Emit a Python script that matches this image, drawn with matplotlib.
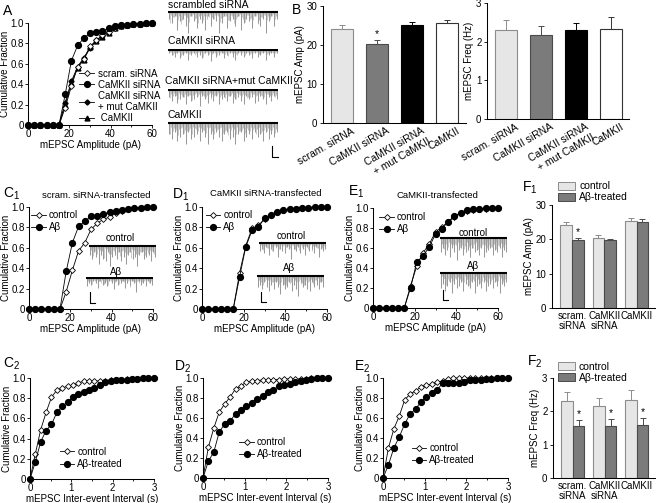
import numpy as np
import matplotlib
matplotlib.use("Agg")
import matplotlib.pyplot as plt
import matplotlib.transforms as mtransforms
from matplotlib.lines import Line2D
from matplotlib.patches import Patch

W, H = 656, 503
plt.rcParams['font.family'] = ['Liberation Sans', 'DejaVu Sans']
plt.rcParams['mathtext.default'] = 'regular'
plt.rcParams['font.size'] = 7
plt.rcParams['axes.linewidth'] = 0.75

# ---------------- data ----------------
amp_bins = [0, 3, 6, 9, 12, 15, 18, 21, 24, 27, 30, 33, 36, 39, 42, 45, 48, 51, 54, 57, 60]
scram_A = [0, 0, 0, 0, 0, 0, 0.17, 0.38, 0.57, 0.65, 0.77, 0.83, 0.88, 0.91, 0.95, 0.97, 0.98, 0.99, 0.99, 1.0, 1.0]
sirna_A = [0, 0, 0, 0, 0, 0, 0.30, 0.63, 0.78, 0.85, 0.90, 0.91, 0.92, 0.95, 0.97, 0.98, 0.98, 0.99, 0.995, 1.0, 1.0]
mut_A = [0, 0, 0, 0, 0, 0, 0.22, 0.43, 0.57, 0.66, 0.75, 0.83, 0.87, 0.92, 0.96, 0.97, 0.98, 0.99, 0.99, 1.0, 1.0]
camk_A = [0, 0, 0, 0, 0, 0, 0.20, 0.41, 0.56, 0.64, 0.76, 0.82, 0.86, 0.90, 0.95, 0.97, 0.98, 0.99, 0.99, 1.0, 1.0]

ctrl_C1 = [0, 0, 0, 0, 0, 0, 0.17, 0.38, 0.57, 0.65, 0.78, 0.84, 0.88, 0.90, 0.94, 0.96, 0.98, 0.99, 0.99, 1.0, 1.0]
abeta_C1 = [0, 0, 0, 0, 0, 0, 0.37, 0.65, 0.81, 0.86, 0.91, 0.91, 0.93, 0.95, 0.96, 0.97, 0.98, 0.99, 0.99, 1.0, 1.0]
ctrl_D1 = [0, 0, 0, 0, 0, 0, 0.35, 0.62, 0.79, 0.82, 0.88, 0.92, 0.95, 0.97, 0.98, 0.985, 0.99, 0.99, 1.0, 1.0, 1.0]
abeta_D1 = [0, 0, 0, 0, 0, 0, 0.31, 0.61, 0.77, 0.80, 0.89, 0.92, 0.95, 0.97, 0.98, 0.985, 0.99, 0.995, 1.0, 1.0, 1.0]
ctrl_E1 = [0, 0, 0, 0, 0, 0, 0.22, 0.42, 0.55, 0.64, 0.76, 0.81, 0.86, 0.91, 0.95, 0.97, 0.98, 0.99, 0.99, 1.0, 1.0]
abeta_E1 = [0, 0, 0, 0, 0, 0, 0.20, 0.46, 0.52, 0.61, 0.74, 0.79, 0.86, 0.92, 0.95, 0.98, 0.99, 0.99, 1.0, 1.0, 1.0]

iei_bins = [0, 0.13, 0.26, 0.39, 0.52, 0.65, 0.78, 0.91, 1.04, 1.17, 1.30, 1.43, 1.56, 1.69,
            1.82, 1.95, 2.08, 2.21, 2.34, 2.47, 2.60, 2.73, 2.86, 2.99]
ctrl_C2 = [0, 0.25, 0.49, 0.66, 0.81, 0.88, 0.90, 0.92, 0.93, 0.95, 0.97, 0.97, 0.97, 0.97,
           0.97, 0.98, 0.98, 0.98, 0.99, 0.99, 0.99, 1.0, 1.0, 1.0]
abeta_C2 = [0, 0.17, 0.37, 0.48, 0.54, 0.66, 0.72, 0.76, 0.81, 0.84, 0.86, 0.88, 0.90, 0.93,
            0.96, 0.97, 0.98, 0.98, 0.985, 0.99, 0.99, 1.0, 1.0, 1.0]
ctrl_D2 = [0, 0.31, 0.50, 0.66, 0.74, 0.81, 0.89, 0.92, 0.96, 0.97, 0.975, 0.98, 0.98, 0.985,
           0.985, 0.99, 0.99, 0.99, 0.99, 0.995, 1.0, 1.0, 1.0, 1.0]
abeta_D2 = [0, 0.17, 0.26, 0.46, 0.54, 0.57, 0.64, 0.68, 0.72, 0.75, 0.79, 0.82, 0.86, 0.88,
            0.92, 0.93, 0.94, 0.96, 0.97, 0.98, 0.99, 1.0, 1.0, 1.0]
ctrl_E2 = [0, 0.30, 0.49, 0.62, 0.78, 0.84, 0.87, 0.91, 0.93, 0.94, 0.96, 0.97, 0.99, 1.0,
           1.0, 1.0, 1.0, 1.0, 1.0, 1.0, 1.0, 1.0, 1.0, 1.0]
abeta_E2 = [0, 0.13, 0.30, 0.41, 0.54, 0.64, 0.69, 0.76, 0.81, 0.85, 0.88, 0.95, 0.955, 0.955,
            0.955, 0.96, 0.98, 0.98, 0.985, 0.99, 0.99, 1.0, 1.0, 1.0]

groups_B = ["scram. siRNA", "CaMKII siRNA", "CaMKII siRNA\n+ mut CaMKII", "CaMKII"]
amp_mean = [24.2, 20.3, 25.2, 25.7]
amp_sem = [1.0, 1.0, 0.7, 0.7]
freq_mean = [2.31, 2.16, 2.29, 2.34]
freq_sem = [0.26, 0.25, 0.20, 0.30]

groups_F = ["scram.\nsiRNA", "CaMKII\nsiRNA", "CaMKII"]
ctrl_amp = [24.2, 20.3, 25.4]
ctrl_amp_sem = [0.9, 0.9, 0.7]
abeta_amp = [19.8, 19.7, 25.0]
abeta_amp_sem = [0.5, 0.3, 1.0]
ctrl_freq = [2.30, 2.15, 2.33]
ctrl_freq_sem = [0.27, 0.25, 0.30]
abeta_freq = [1.57, 1.57, 1.60]
abeta_freq_sem = [0.18, 0.20, 0.20]

# example trace event depths (relative)
tr_scram = [3, 5, 2, 8, 4, 3, 6, 9, 2, 4, 7, 3, 5, 8, 2, 6, 3, 4, 9, 5, 2, 7, 4, 3, 6, 2, 8, 5, 3, 4, 7, 2, 5, 6, 3, 9, 4, 2, 6, 3]
tr_sirna = [2, 3, 4, 2, 5, 3, 2, 6, 3, 2, 4, 3, 5, 2, 3, 7, 2, 4, 3, 2, 5, 3, 2, 4, 6, 2, 3, 4, 2, 3, 5, 2, 4, 3, 2, 6, 3, 2, 4, 2]
tr_mut = [4, 6, 3, 7, 5, 4, 8, 3, 6, 5, 4, 9, 3, 5, 7, 4, 6, 3, 8, 5, 4, 6, 3, 7, 5, 4, 6, 8, 3, 5, 4, 7, 6, 3, 5, 8, 4, 6, 3, 5]
tr_camk = [5, 7, 4, 8, 6, 5, 9, 4, 7, 6, 5, 8, 4, 6, 9, 5, 7, 4, 6, 8, 5, 4, 7, 6, 9, 5, 4, 8, 6, 5, 7, 4, 6, 5, 8, 4, 7, 5, 6, 4]
tr_C1_ctrl = [4, 6, 3, 5, 8, 4, 6, 7, 3, 9, 5, 4, 6, 3, 7, 5, 8, 4, 3, 6, 5, 9, 4, 3, 6, 5, 4, 7, 3, 5]
tr_C1_abeta = [5, 3, 4, 2, 3, 6, 2, 4, 3, 5, 2, 3, 7, 2, 4, 3, 2, 6, 3, 4, 2, 3, 9, 2, 4, 3, 5, 2, 3, 4]
tr_D1_ctrl = [4, 3, 5, 2, 6, 3, 4, 2, 7, 3, 4, 5, 2, 3, 8, 3, 4, 2, 5, 3, 6, 2, 4, 3, 5, 2, 7, 3, 4, 3]
tr_D1_abeta = [5, 4, 6, 3, 5, 7, 4, 6, 3, 5, 8, 4, 6, 5, 3, 7, 4, 6, 9, 3, 5, 4, 6, 7, 3, 5, 4, 6, 3, 5]
tr_E1_ctrl = [6, 4, 7, 5, 8, 4, 6, 9, 5, 4, 7, 6, 5, 8, 4, 6, 5, 7, 4, 8, 6, 5, 4, 7, 5, 6, 4, 8, 5, 6]
tr_E1_abeta = [7, 5, 8, 6, 4, 9, 5, 7, 6, 4, 8, 5, 6, 7, 4, 9, 6, 5, 7, 4, 8, 6, 5, 7, 4, 6, 9, 5, 6, 4]

LIGHT, LIGHT_E = '#e6e6e6', '#8c8c8c'
DARK, DARK_E = '#7b7b7b', '#4a4a4a'

fig = plt.figure(figsize=(6.56, 5.03), dpi=100)


def add_box(l, t, r, b):
    return fig.add_axes([l / W, 1 - b / H, (r - l) / W, (b - t) / H])


def ftext(x, y, s, **kw):
    return fig.text(x / W, 1 - y / H, s, **kw)


def fline(xs, ys):
    fig.add_artist(Line2D([x / W for x in xs], [1 - y / H for y in ys], color='k', lw=0.8))


def style_cdf(ax, kind):
    ax.set_ylim(0, 1.0)
    for s in ['top', 'right']:
        ax.spines[s].set_visible(False)
    if kind == 'amp':
        ax.set_xlim(0, 60)
        ax.set_xticks([0, 20, 40, 60])
        ax.set_xticks([10, 30, 50], minor=True)
        ax.set_xlabel('mEPSC Amplitude (pA)', labelpad=0.5)
    else:
        ax.set_xlim(0, 3)
        ax.set_xticks([0, 1, 2, 3])
        ax.set_xticks([0.5, 1.5, 2.5], minor=True)
        ax.set_xlabel('mEPSC Inter-event Interval (s)', labelpad=0.5)
    ax.set_yticks([0, 0.2, 0.4, 0.6, 0.8, 1.0])
    ax.set_yticklabels(['0', '0.2', '0.4', '0.6', '0.8', '1.0'])
    ax.set_ylabel('Cumulative Fraction', labelpad=0.5)
    ax.tick_params(which='both', length=2, width=0.6, pad=1, labelsize=7)
    ax.tick_params(which='minor', length=1.3)


def plot_pair(ax, x, ctrl, ab):
    ax.plot(x, ctrl, '-', color='k', lw=0.6, marker='D', ms=3, mfc='white', mec='k',
            mew=0.6, clip_on=False, zorder=3)
    ax.plot(x, ab, '-', color='k', lw=0.6, marker='o', ms=4.2, mfc='k', mec='k',
            clip_on=False, zorder=4)


def pair_legend(ax, anchor, ab_label):
    h = [Line2D([], [], color='k', lw=0.6, marker='D', ms=3, mfc='white', mec='k', mew=0.6),
         Line2D([], [], color='k', lw=0.6, marker='o', ms=4.2, mfc='k')]
    ax.legend(h, ['control', ab_label], loc='upper left', bbox_to_anchor=anchor, frameon=False,
              handlelength=1.5, handletextpad=0.3, labelspacing=0.25, borderaxespad=0,
              borderpad=0, fontsize=7)


def draw_trace(box, events, label=None, label_xy=None):
    ax = add_box(*box)
    ax.axis('off')
    n = len(events)
    pos = np.linspace(0.01, 0.99, n)
    ax.vlines(pos + 0.33 / n, 0, [-e * 0.6 for e in events[3:] + events[:3]], color='#c4c4c4', lw=0.6)
    ax.vlines(pos + 0.66 / n, 0, [-e * 0.4 for e in events[::-1]], color='#b4b4b4', lw=0.6)
    ax.vlines(pos, 0, [-e for e in events], color='#999999', lw=0.75)
    ax.plot([0, 1], [0, 0], color='k', lw=1.5)
    ax.set_xlim(0, 1)
    ax.set_ylim(-10, 0.8)
    if label:
        ftext(label_xy[0], label_xy[1], label, ha='center', va='center', fontsize=7)


def style_bar(ax, yticks, ylabel):
    for s in ['top', 'right']:
        ax.spines[s].set_visible(False)
    ax.set_yticks(yticks)
    ax.set_ylim(yticks[0], yticks[-1])
    ax.set_ylabel(ylabel, labelpad=1.5)
    ax.tick_params(axis='y', length=2.5, width=0.6, pad=1.5, labelsize=7)
    ax.tick_params(axis='x', length=0, pad=2, labelsize=7)


def up_err(ax, x, m, e, color):
    ax.errorbar(x, m, yerr=[[0] * len(e), e], fmt='none', ecolor=color, elinewidth=0.7,
                capsize=2.5, capthick=0.7, zorder=1)


# ---------------- panel A ----------------
axA = add_box(28, 23, 152, 125)
style_cdf(axA, 'amp')
axA.plot(amp_bins, camk_A, '-', color='k', lw=0.6, marker='^', ms=3.5, mfc='k', clip_on=False, zorder=3)
axA.plot(amp_bins, mut_A, '-', color='k', lw=0.6, marker='D', ms=2.6, mfc='k', clip_on=False, zorder=3)
axA.plot(amp_bins, scram_A, '-', color='k', lw=0.6, marker='D', ms=3, mfc='white', mec='k', mew=0.6,
         clip_on=False, zorder=4)
axA.plot(amp_bins, sirna_A, '-', color='k', lw=0.6, marker='o', ms=4.2, mfc='k', clip_on=False, zorder=5)
hA = [Line2D([], [], color='k', lw=0.6, marker='D', ms=3, mfc='white', mec='k', mew=0.6),
      Line2D([], [], color='k', lw=0.6, marker='o', ms=4.2, mfc='k'),
      Line2D([], [], color='k', lw=0.6, marker='D', ms=2.6, mfc='k'),
      Line2D([], [], color='k', lw=0.6, marker='^', ms=3.5, mfc='k')]
axA.legend(hA, ['scram. siRNA', 'CaMKII siRNA', 'CaMKII siRNA\n+ mut CaMKII', ' CaMKII'],
           loc='upper left', bbox_to_anchor=(0.41, 0.55), frameon=False, handlelength=1.6,
           handletextpad=0.4, labelspacing=0.1, borderaxespad=0, borderpad=0, fontsize=7)
ftext(3, 4, 'A', fontsize=10, va='top')

# traces A
draw_trace((168, 10, 278, 35), tr_scram)
draw_trace((168, 49, 278, 66), tr_sirna)
draw_trace((168, 89, 278, 108), tr_mut)
draw_trace((168, 121, 278, 146), tr_camk)
ftext(168, 5, 'scrambled siRNA', fontsize=7.5, va='center')
ftext(168, 41, 'CaMKII siRNA', fontsize=7.5, va='center')
ftext(165, 81, 'CaMKII siRNA+mut CaMKII', fontsize=7.5, va='center')
ftext(168, 115, 'CaMKII', fontsize=7.5, va='center')
fline([272, 272, 278], [146, 157, 157])

# ---------------- panel B ----------------
colors_B = [LIGHT, DARK, 'black', 'white']
edges_B = [LIGHT_E, DARK_E, 'black', '#333333']
xB = np.arange(len(groups_B))
off = mtransforms.ScaledTranslation(9 / 100, 0, fig.dpi_scale_trans)

axB1 = add_box(323, 6, 466, 123)
axB1.bar(xB, amp_mean, width=0.63, color=colors_B, edgecolor=edges_B, lw=0.8, zorder=2)
for i in range(len(xB)):
    up_err(axB1, [xB[i]], [amp_mean[i]], [amp_sem[i]], edges_B[i])
axB1.text(xB[1], amp_mean[1] + amp_sem[1] + 0.3, '*', ha='center', va='bottom', fontsize=7.5)
axB1.set_xlim(-0.54, 3.54)
style_bar(axB1, [0, 10, 20, 30], 'mEPSC Amp (pA)')
axB1.set_xticks(xB)
axB1.set_xticklabels(groups_B, rotation=30, ha='right', rotation_mode='anchor', fontsize=7.5)
for lbl in axB1.get_xticklabels():
    lbl.set_transform(lbl.get_transform() + off)
ftext(292, 3, 'B', fontsize=10, va='top')

axB2 = add_box(487, 3, 629, 119)
axB2.bar(xB, freq_mean, width=0.63, color=colors_B, edgecolor=edges_B, lw=0.8, zorder=2)
for i in range(len(xB)):
    up_err(axB2, [xB[i]], [freq_mean[i]], [freq_sem[i]], edges_B[i])
axB2.set_xlim(-0.54, 3.51)
style_bar(axB2, [0, 1, 2, 3], 'mEPSC Freq (Hz)')
axB2.set_xticks(xB)
axB2.set_xticklabels(groups_B, rotation=30, ha='right', rotation_mode='anchor', fontsize=7.5)
for lbl in axB2.get_xticklabels():
    lbl.set_transform(lbl.get_transform() + off)

# ---------------- row 1: amplitude CDFs ----------------
axC1 = add_box(29, 207, 153, 309)
style_cdf(axC1, 'amp')
plot_pair(axC1, amp_bins, ctrl_C1, abeta_C1)
pair_legend(axC1, (0.02, 0.97), 'A\u03b2')
ftext(96, 195, 'scram. siRNA-transfected', ha='center', va='center', fontsize=6.8)
ftext(3, 194, 'C$_1$', fontsize=10, va='center')
draw_trace((89, 244, 156, 268), tr_C1_ctrl, 'control', (120, 238))
draw_trace((86, 277, 153, 294), tr_C1_abeta, 'A\u03b2', (116, 272))
fline([90, 90, 95], [292, 303, 303])

axD1 = add_box(202, 207, 327, 309)
style_cdf(axD1, 'amp')
plot_pair(axD1, amp_bins, ctrl_D1, abeta_D1)
pair_legend(axD1, (0.03, 0.97), 'A\u03b2')
ftext(266, 194, 'CaMKII siRNA-transfected', ha='center', va='center', fontsize=6.8)
ftext(172, 195, 'D$_1$', fontsize=10, va='center')
draw_trace((259, 241, 326, 263), tr_D1_ctrl, 'control', (291, 236))
draw_trace((257, 274, 324, 298), tr_D1_abeta, 'A\u03b2', (289, 268))
fline([261, 261, 266], [292, 302, 302])

axE1 = add_box(373, 208, 498, 308)
style_cdf(axE1, 'amp')
plot_pair(axE1, amp_bins, ctrl_E1, abeta_E1)
pair_legend(axE1, (0.05, 0.96), 'A\u03b2')
ftext(437, 195, 'CaMKII-transfected', ha='center', va='center', fontsize=6.8)
ftext(348, 192, 'E$_1$', fontsize=10, va='center')
draw_trace((440, 236, 507, 262), tr_E1_ctrl, 'control', (473, 233))
draw_trace((440, 271, 507, 295), tr_E1_abeta, 'A\u03b2', (473, 266))
fline([443, 443, 448], [290, 300, 300])

# ---------------- row 2: inter-event interval CDFs ----------------
axC2 = add_box(30, 378, 154, 479)
style_cdf(axC2, 'iei')
plot_pair(axC2, iei_bins, ctrl_C2, abeta_C2)
pair_legend(axC2, (0.24, 0.32), 'A\u03b2-treated')
ftext(3, 364, 'C$_2$', fontsize=10, va='center')

axD2 = add_box(203, 378, 328, 478)
style_cdf(axD2, 'iei')
plot_pair(axD2, iei_bins, ctrl_D2, abeta_D2)
pair_legend(axD2, (0.29, 0.41), 'A\u03b2-treated')
ftext(174, 367, 'D$_2$', fontsize=10, va='center')

axE2 = add_box(383, 378, 508, 478)
style_cdf(axE2, 'iei')
plot_pair(axE2, iei_bins, ctrl_E2, abeta_E2)
pair_legend(axE2, (0.23, 0.35), 'A\u03b2-treated')
ftext(354, 367, 'E$_2$', fontsize=10, va='center')

# ---------------- F panels ----------------
xF = np.arange(len(groups_F))
bw = 0.36
hF = [Patch(fc=LIGHT, ec=LIGHT_E, lw=0.7), Patch(fc=DARK, ec=DARK_E, lw=0.7)]


def f_panel(box, cm, ce, am, ae, yticks, ylabel, anchor, star_idx):
    ax = add_box(*box)
    ax.bar(xF - bw / 2, cm, width=bw, color=LIGHT, edgecolor=LIGHT_E, lw=0.8, zorder=2)
    ax.bar(xF + bw / 2, am, width=bw, color=DARK, edgecolor=DARK_E, lw=0.8, zorder=2)
    up_err(ax, xF - bw / 2, cm, ce, LIGHT_E)
    up_err(ax, xF + bw / 2, am, ae, DARK_E)
    for i in star_idx:
        ax.text(xF[i] + bw / 2, am[i] + ae[i] + 0.01 * yticks[-1], '*', ha='center', va='bottom',
                fontsize=7.5)
    ax.set_xlim(-0.62, 2.57)
    style_bar(ax, yticks, ylabel)
    ax.set_xticks(xF)
    ax.set_xticklabels(groups_F, fontsize=7, va='top', linespacing=1.0)
    ax.legend(hF, ['control', 'A\u03b2-treated'], loc='upper left', bbox_to_anchor=anchor,
              frameon=False, handlelength=1.6, handleheight=0.8, handletextpad=0.4,
              labelspacing=0.1, borderaxespad=0, borderpad=0, fontsize=7.5)
    return ax


f_panel((552, 205, 655, 308), ctrl_amp, ctrl_amp_sem, abeta_amp, abeta_amp_sem,
        [0, 10, 20, 30], 'mEPSC Amp (pA)', (0.06, 1.23), [0])
ftext(522, 188, 'F$_1$', fontsize=10, va='center')
f_panel((553, 378, 655, 478), ctrl_freq, ctrl_freq_sem, abeta_freq, abeta_freq_sem,
        [0, 1, 2, 3], 'mEPSC Freq (Hz)', (0.05, 1.16), [0, 1, 2])
ftext(527, 362, 'F$_2$', fontsize=10, va='center')

fig.savefig('out.png', dpi=100)
